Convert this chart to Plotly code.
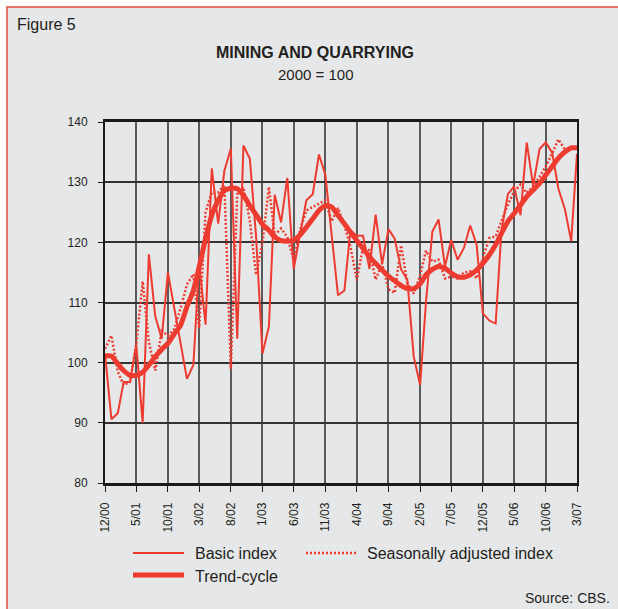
import pandas as pd
import plotly.graph_objects as go

# ---------------- data ----------------
months = pd.date_range("2000-12-01", periods=76, freq="MS")

tick_labels = ["12/00", "5/01", "10/01", "3/02", "8/02", "1/03", "6/03", "11/03",
               "4/04", "9/04", "2/05", "7/05", "12/05", "5/06", "10/06", "3/07"]

basic_index = [101.5, 90.6, 91.6, 96.8, 96.8, 103.0, 90.0, 118.0, 107.7, 104.0,
               115.0, 109.0, 103.5, 97.3, 99.6, 116.4, 106.3, 132.3, 123.1, 131.9,
               135.6, 104.0, 136.1, 133.9, 121.0, 101.5, 106.0, 127.9, 123.3, 130.7,
               115.6, 121.0, 127.0, 128.0, 134.6, 131.2, 121.0, 111.2, 112.0, 122.0,
               121.1, 121.1, 115.6, 124.6, 116.4, 122.2, 120.6, 115.5, 113.8, 101.0,
               96.3, 110.0, 121.8, 123.8, 116.0, 120.4, 117.1, 119.1, 122.8, 119.6,
               108.2, 107.0, 106.5, 122.0, 128.0, 129.3, 124.5, 136.6, 129.4, 135.5,
               136.6, 134.9, 128.9, 125.6, 120.2, 134.7]

seasonally_adjusted = [102.3, 104.5, 98.5, 96.3, 96.8, 103.0, 113.5, 103.4, 98.7, 105.3,
                       104.5, 105.6, 109.0, 113.0, 114.7, 105.8, 125.0, 128.3, 128.3, 129.5,
                       99.0, 128.0, 129.2, 123.6, 114.6, 120.0, 129.2, 121.2, 122.3, 120.9,
                       117.0, 122.0, 125.3, 125.9, 126.4, 127.0, 123.5, 125.7, 122.8, 119.3,
                       113.7, 119.2, 118.7, 113.8, 116.5, 112.2, 111.6, 119.5, 113.2, 111.5,
                       114.5, 118.6, 116.8, 117.1, 114.0, 114.3, 114.0, 115.0, 115.2, 114.0,
                       117.4, 120.7, 121.0, 123.5, 126.3, 128.4, 129.6, 128.2, 129.3, 130.9,
                       132.6, 134.8, 137.1, 135.5, 135.6, 135.7]

trend_cycle = [101.1, 101.1, 99.8, 98.7, 97.9, 97.9, 98.4, 99.6, 101.0, 102.2,
               103.2, 104.8, 106.2, 109.3, 112.0, 115.9, 120.6, 124.5, 127.0, 128.6,
               129.0, 128.9, 127.8, 126.1, 124.6, 123.0, 122.0, 120.9, 120.3, 120.2,
               120.3, 121.2, 122.5, 123.9, 125.3, 126.1, 125.9, 124.5, 123.1, 121.7,
               120.3, 119.0, 117.6, 116.5, 115.4, 114.4, 113.6, 112.8, 112.3, 112.3,
               113.1, 114.6, 115.5, 116.0, 115.7, 114.9, 114.3, 114.2, 114.6, 115.4,
               116.5, 117.9, 119.6, 121.5, 123.5, 124.8, 126.2, 127.6, 128.7, 129.8,
               131.2, 132.6, 134.0, 135.0, 135.7, 135.7]

# ---------------- styling ----------------
RED = "#ee3b30"
BG = "#e6e7e8"
TXT = "#231f20"
FONT = "Liberation Sans, Arial, sans-serif"
W, H = 618, 609
L, R, T, B = 105, 41, 122, 126
PW, PH = W - L - R, H - T - B


def px(x):
    return (x - L) / PW


def py(y):
    return (H - B - y) / PH


fig = go.Figure()
fig.add_trace(go.Scatter(x=months, y=basic_index, mode="lines", name="Basic index",
                         line=dict(color=RED, width=2)))
fig.add_trace(go.Scatter(x=months, y=seasonally_adjusted, mode="lines",
                         name="Seasonally adjusted index",
                         line=dict(color=RED, width=2.5, dash="2px,2px")))
fig.add_trace(go.Scatter(x=months, y=trend_cycle, mode="lines", name="Trend-cycle",
                         line=dict(color=RED, width=5, shape="spline", smoothing=0.6)))

shapes = [
    dict(type="rect", xref="paper", yref="paper", x0=px(7), x1=px(640), y0=py(640), y1=py(7),
         line=dict(color="#e8453c", width=1.5), fillcolor=BG, layer="below"),
    # legend samples
    dict(type="line", xref="paper", yref="paper", x0=px(133), x1=px(184), y0=py(553), y1=py(553),
         line=dict(color=RED, width=2)),
    dict(type="line", xref="paper", yref="paper", x0=px(306), x1=px(357), y0=py(553), y1=py(553),
         line=dict(color=RED, width=2.5, dash="2px,2px")),
    dict(type="line", xref="paper", yref="paper", x0=px(133), x1=px(184), y0=py(575), y1=py(575),
         line=dict(color=RED, width=5)),
]


def note(text, x, y, anchor, size):
    return dict(text=text, x=px(x), y=py(y), xref="paper", yref="paper", xanchor=anchor,
                yanchor="middle", showarrow=False, font=dict(size=size, color=TXT, family=FONT))


annotations = [
    note("Figure 5", 15, 25, "left", 16),
    note("<b>MINING AND QUARRYING</b>", 315, 52, "center", 16),
    note("2000 = 100", 316, 75, "center", 15),
    note("Basic index", 193, 553, "left", 16),
    note("Seasonally adjusted index", 365, 553, "left", 16),
    note("Trend-cycle", 193, 576, "left", 16),
    note("Source: CBS.", 612, 598, "right", 14),
]

fig.update_layout(
    width=W, height=H,
    margin=dict(l=L, r=R, t=T, b=B, pad=0),
    paper_bgcolor="white",
    plot_bgcolor="rgba(0,0,0,0)",
    showlegend=False,
    shapes=shapes,
    annotations=annotations,
    font=dict(family=FONT, color=TXT),
    xaxis=dict(
        range=[months[0], months[-1]],
        tickmode="array",
        tickvals=list(months[::5]),
        ticktext=tick_labels,
        tickangle=-90,
        tickfont=dict(size=12, family=FONT, color=TXT),
        ticklabelstandoff=6,
        showgrid=True, gridcolor="#5a5a5a", gridwidth=1.6,
        showline=True, linecolor="#1a1a1a", linewidth=2.5, mirror=True,
        ticks="outside", ticklen=6, tickcolor="#1a1a1a", tickwidth=1.2,
        zeroline=False,
    ),
    yaxis=dict(
        range=[80, 140],
        tickmode="linear", tick0=80, dtick=10,
        tickfont=dict(size=12, family=FONT, color=TXT),
        ticklabelstandoff=8,
        showgrid=True, gridcolor="#333333", gridwidth=1.5,
        showline=True, linecolor="#1a1a1a", linewidth=2, mirror=True,
        ticks="outside", ticklen=5, tickcolor="#1a1a1a", tickwidth=1.2,
        zeroline=False,
    ),
)

fig.write_html("out.html", config={"displayModeBar": False},
               post_script="document.body.style.margin='0';document.body.style.overflow='hidden';")
